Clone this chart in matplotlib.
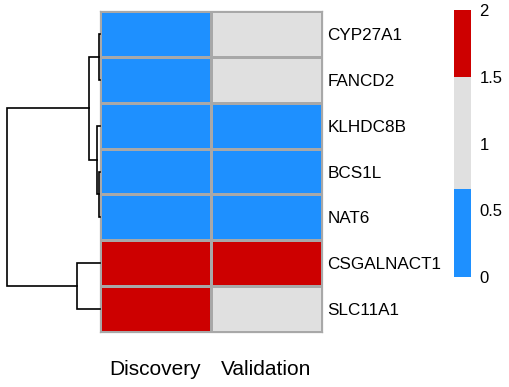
import matplotlib
matplotlib.use("Agg")
import matplotlib.pyplot as plt
import numpy as np
from matplotlib.colors import ListedColormap, BoundaryNorm
from matplotlib.cm import ScalarMappable

plt.rcParams['font.family'] = ['Liberation Sans', 'DejaVu Sans']

genes = ["CYP27A1", "FANCD2", "KLHDC8B", "BCS1L", "NAT6", "CSGALNACT1", "SLC11A1"]
columns = ["Discovery", "Validation"]
discovery = [0, 0, 0, 0, 0, 2, 2]
validation = [1, 1, 0, 0, 0, 2, 1]

# linkage: (child_a, child_b, height); leaves 0..6, merges numbered from 7
merges = [
    (0, 1, 1.3),
    (3, 4, 0.7),
    (2, 8, 3.3),
    (7, 9, 10.7),
    (5, 6, 23.3),
    (10, 11, 93.3),
]

bounds = [0, 0.66, 1.5, 2]
colors = ["#1E90FF", "#E0E0E0", "#CD0000"]
cbar_ticks = [0, 0.5, 1, 1.5, 2]

W, H = 510, 387
fig = plt.figure(figsize=(W / 100, H / 100), dpi=100)

def px(l, t, r, b):
    return [l / W, 1 - b / H, (r - l) / W, (b - t) / H]

cmap = ListedColormap(colors)
norm = BoundaryNorm(bounds, cmap.N)

# heatmap
ax = fig.add_axes(px(100, 11, 322, 332))
data = np.array([discovery, validation]).T
ax.pcolormesh(data, cmap=cmap, norm=norm, edgecolors="#A8A8A8", linewidth=0.9)
ax.set_xlim(0, len(columns))
ax.set_ylim(len(genes), 0)
for s in ax.spines.values():
    s.set_edgecolor("#A8A8A8")
    s.set_linewidth(0.9)
ax.yaxis.tick_right()
ax.set_yticks(np.arange(len(genes)) + 0.5)
ax.set_yticklabels(genes, fontsize=12.3)
ax.set_xticks(np.arange(len(columns)) + 0.5)
ax.set_xticklabels(columns, fontsize=15)
ax.tick_params(axis="y", length=0, pad=4)
ax.tick_params(axis="x", length=0, pad=20)

# dendrogram
dax = fig.add_axes(px(6.7, 11, 100, 332))
n = len(genes)
pos = {i: (i + 0.5, 0.0) for i in range(n)}
for k, (a, b, h) in enumerate(merges):
    ya, ha = pos[a]
    yb, hb = pos[b]
    dax.plot([ha, h, h, hb], [ya, ya, yb, yb], color="black", lw=1.2,
             solid_joinstyle="miter", clip_on=False)
    pos[n + k] = ((ya + yb) / 2, h)
dax.set_xlim(merges[-1][2], 0)
dax.set_ylim(n, 0)
dax.axis("off")

# colorbar
cax = fig.add_axes(px(454, 10, 471, 277))
sm = ScalarMappable(norm=norm, cmap=cmap)
cb = fig.colorbar(sm, cax=cax, spacing="proportional", ticks=cbar_ticks)
cb.outline.set_visible(False)
cb.ax.minorticks_off()
cb.ax.set_yticklabels([f"{t:g}" for t in cbar_ticks], fontsize=12)
cb.ax.tick_params(which="both", length=0, pad=6)

fig.savefig("out.png", dpi=100)
